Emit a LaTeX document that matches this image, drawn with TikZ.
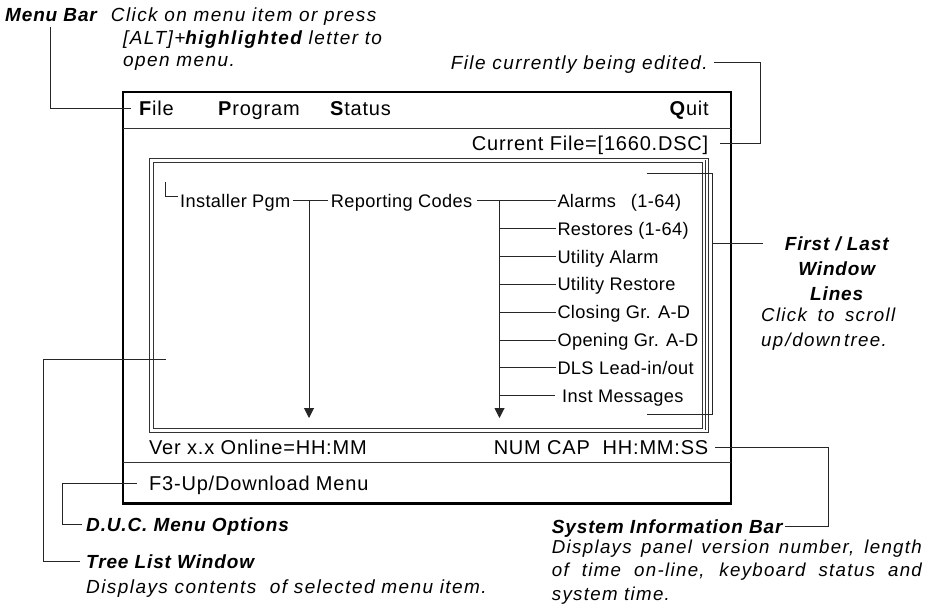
\documentclass[tikz,border=0pt]{standalone}
\usepackage{fontspec}
\setmainfont[LetterSpace=4]{Liberation Sans}
\newfontfamily\annfont[LetterSpace=7.5]{Liberation Sans}
\newfontfamily\sifont[LetterSpace=7]{Liberation Sans}
\newfontfamily\headfont[LetterSpace=4.5]{Liberation Sans}
\newfontfamily\treefont[LetterSpace=2]{Liberation Sans}
\usetikzlibrary{arrows.meta}
\begin{document}
\begin{tikzpicture}[x=1pt,y=-1pt,
  txt/.style={inner sep=0pt, text depth=0pt},
  bar/.style={txt, text height=14pt, font=\fontsize{20}{22}\selectfont},
  tree/.style={txt, text height=13pt, font=\treefont\fontsize{18.2}{20}\selectfont},
  ann/.style={txt, text height=13.6pt, font=\annfont\fontsize{19}{22}\selectfont\itshape},
  siann/.style={txt, text height=13.4pt, font=\sifont\fontsize{18.7}{22}\selectfont\itshape},
  head/.style={txt, text height=13.6pt, font=\headfont\fontsize{19}{22}\selectfont\bfseries\itshape},
  conn/.style={line width=1pt, draw=black!85},
  boxline/.style={line width=2.2pt},
  sepline/.style={line width=1pt, draw=black!80},
  frm/.style={line width=0.9pt, draw=black!80},
  arr/.style={conn, -{Triangle[width=10pt,length=10pt]}}
]
\useasboundingbox (0,0) rectangle (925,613);

% ---- screen box ----
\draw[boxline] (123,92) rectangle (731,503.5);
\draw[sepline] (123,128) -- (731,128);
\draw[sepline] (123,462.5) -- (731,462.5);

% tree window frame
\draw[frm] (149,158) rectangle (708,432);
\draw[frm] (153,162) rectangle (702.5,428);
\draw[frm] (705.5,160) -- (705.5,430);

% ---- menu bar ----
\node[bar, anchor=base west] (mfile) at (139,115) {\textbf{F}ile};
\node[bar, anchor=base west] (mprog) at (218,115) {\textbf{P}rogram};
\node[bar, anchor=base west] (mstat) at (330,115) {\textbf{S}tatus};
\node[bar, anchor=base east] (mquit) at (709,115) {\textbf{Q}uit};
\node[bar, anchor=base east] (curfile) at (708.5,150) {Current File=[1660.DSC]};

% ---- status rows ----
\node[bar, anchor=base west] (ver) at (149,454) {Ver x.x Online=HH:MM};
\node[bar, anchor=base east] (numcap) at (708.5,454) {NUM CAP\ \ HH:MM:SS};
\node[bar, anchor=base west] (f3) at (149,490) {F3-Up/Download Menu};

% ---- tree ----
\node[tree, anchor=base west] (inst) at (180,207.3) {Installer Pgm};
\node[tree, anchor=base west] (rep) at (330.7,207.3) {Reporting Codes};
\node[tree, anchor=base west] (it0) at (557.3,207.3) {Alarms\hspace{15pt}(1-64)};
\node[tree, anchor=base west] (it1) at (557.3,235.15) {Restores (1-64)};
\node[tree, anchor=base west] (it2) at (557.3,263.0) {Utility Alarm};
\node[tree, anchor=base west] (it3) at (557.3,290.85) {Utility Restore};
\node[tree, anchor=base west] (it4) at (557.3,318.7) {Closing Gr. A-D};
\node[tree, anchor=base west] (it5) at (557.3,346.55) {Opening Gr. A-D};
\node[tree, anchor=base west] (it6) at (557.3,374.4) {DLS Lead-in/out};
\node[tree, anchor=base west] (it7) at (562,402.25) {Inst Messages};

\coordinate (c0) at (165,182);
\coordinate (c1) at (178,196.7);
\draw[conn] (c0) |- (c1);
\draw[conn] ([xshift=2pt]inst.east) -- ([xshift=-2.5pt]rep.west);
\coordinate (a1) at (309,418);
\draw[arr] (a1 |- inst.east) -- (a1);
\draw[conn] ([xshift=5pt]rep.east) -- ([xshift=-1.5pt]it0.west);
\coordinate (a2) at (499.5,418);
\draw[arr] (a2 |- it0.west) -- (a2);
\foreach \n in {1,...,6} \draw[conn] (a2 |- it\n.west) -- ([xshift=-1.5pt]it\n.west);
\draw[conn] (a2 |- it7.west) -- ([xshift=-7pt]it7.west);

% ---- annotations ----
\node[head, anchor=base west] (mbar) at (5,21.5) {Menu Bar};
\node[ann, anchor=base west] (mb1) at (110.7,21.5) {Click on menu item or press};
\node[ann, anchor=base west] (mb2) at (123,44) {[ALT]+\textbf{highlighted} letter to};
\node[ann, anchor=base west] (mb3) at (123,66.5) {open menu.};
\coordinate (mbv) at (50,27);
\draw[conn] (mbv) |- ([xshift=-8pt]mfile.west);

\node[ann, anchor=base east] (fce) at (708,69.5) {File currently being edited.};
\coordinate (fcc) at (760,0);
\draw[conn] ([xshift=6pt]fce.east) -- (fce.east -| fcc) -- (curfile.east -| fcc) -- ([xshift=11pt]curfile.east);

\node[head, anchor=base] (fl1) at (836.7,250) {First / Last};
\node[head, anchor=base] (fl2) at (836.7,275) {Window};
\node[head, anchor=base] (fl3) at (836.7,300) {Lines};
\node[siann, anchor=base west] (fl4) at (761,321.7) {\makebox[134pt][s]{Click to scroll}};
\node[siann, anchor=base west] (fl5) at (761,346) {up\hspace{2pt}/\hspace{2pt}down\hspace{3pt}tree.};
\coordinate (fla) at (646.5,173);
\coordinate (flb) at (646.5,414.5);
\coordinate (flx) at (712.7,243);
\coordinate (fle) at (763.3,243);
\draw[conn] (fla) -- (fla -| flx) -- (flb -| flx) -- (flb);
\draw[conn] (flx) -- (fle);

\node[head, anchor=base west] (sysinfo) at (551.7,533) {System Information Bar};
\node[siann, anchor=base west] (si1) at (551.7,553.3) {\makebox[370pt][s]{Displays panel version number, length}};
\node[siann, anchor=base west] (si2) at (551.7,576.7) {\makebox[370pt][s]{of time on-line, keyboard status and}};
\node[siann, anchor=base west] (si3) at (551.7,600) {system time.};
\coordinate (sic) at (828.3,0);
\draw[conn] ([xshift=6.5pt]numcap.east) -- (numcap.east -| sic) -- (sysinfo.east -| sic) -- ([xshift=2pt]sysinfo.east);

\node[head, anchor=base west] (duc) at (86,531.7) {D.U.C. Menu Options};
\coordinate (dcc) at (62.7,0);
\draw[conn] ([xshift=-12pt]f3.west) -- (f3.west -| dcc) -- (duc.west -| dcc) -- ([xshift=-4pt]duc.west);

\node[head, anchor=base west] (tlist) at (86,568.3) {Tree List Window};
\node[ann, anchor=base west] (tl1) at (86,593.5) {Displays contents\ \ of selected menu item.};
\coordinate (tlw) at (165.7,359);
\coordinate (tlc) at (43.3,0);
\draw[conn] (tlw) -- (tlw -| tlc) -- (tlist.west -| tlc) -- ([xshift=-6.5pt]tlist.west);
\end{tikzpicture}
\end{document}
